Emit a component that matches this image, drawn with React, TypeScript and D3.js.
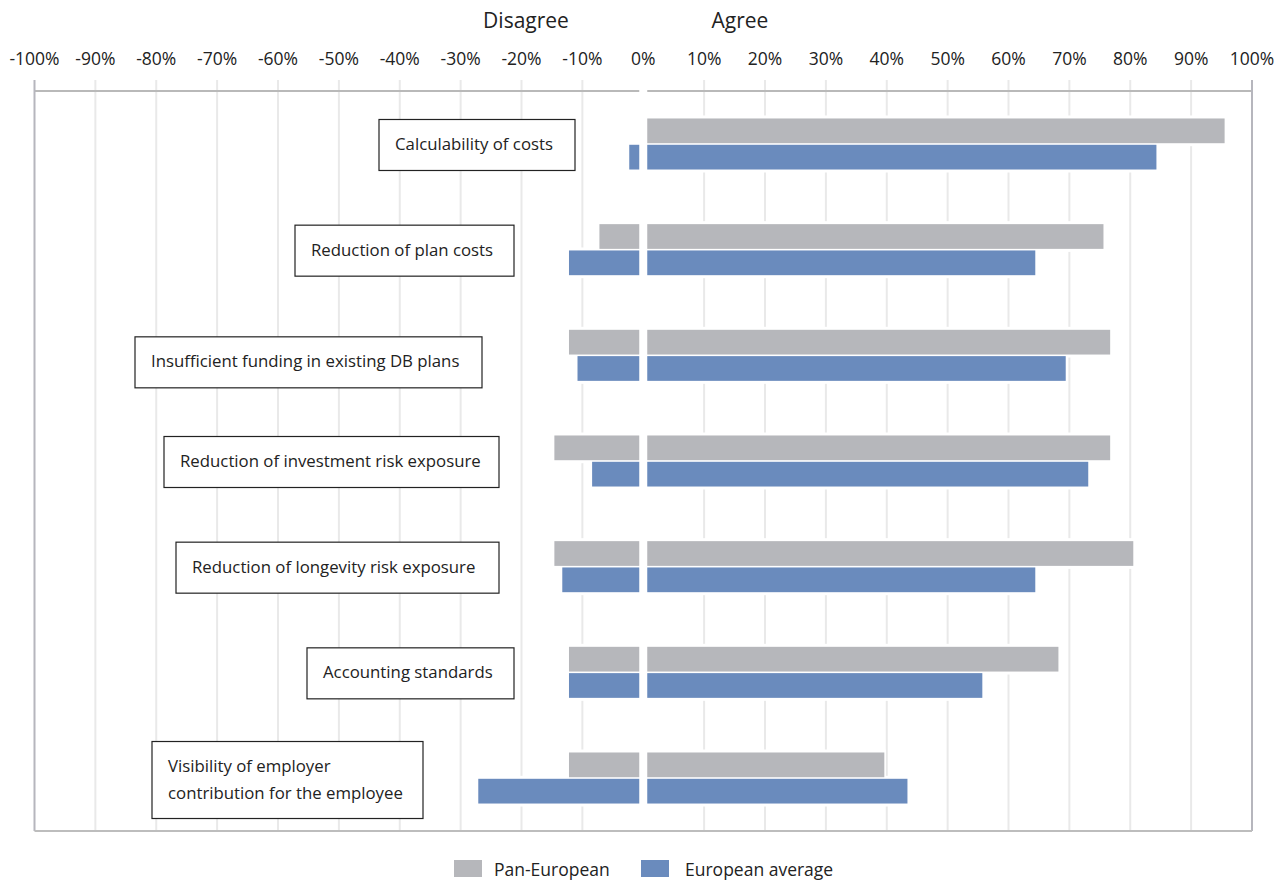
import React from 'react';
import * as d3 from 'd3';

// Survey categories, top to bottom
const categories = [
  'Calculability of costs',
  'Reduction of plan costs',
  'Insufficient funding in existing DB plans',
  'Reduction of investment risk exposure',
  'Reduction of longevity risk exposure',
  'Accounting standards',
  'Visibility of employer contribution for the employee',
];

const seriesNames = ['Pan-European', 'European average'];

// Share of respondents (%) that agree
const panEuropeanAgree = [95.5, 75.6, 76.7, 76.7, 80.5, 68.2, 39.6];
const europeanAverageAgree = [84.3, 64.4, 69.4, 73.1, 64.4, 55.7, 43.4];
// Share of respondents (%) that disagree (drawn to the left)
const panEuropeanDisagree = [0, -7.2, -12.2, -14.6, -14.6, -12.2, -12.2];
const europeanAverageDisagree = [-2.3, -12.2, -10.8, -8.4, -13.3, -12.2, -27.1];

const tickValues = d3.range(-100, 101, 10);

// Label box layout (in px): left edge, right edge, vertical nudge
const labelBoxes = [
  { x0: 379, x1: 575, dy: 1, lines: ['Calculability of costs'] },
  { x0: 295, x1: 514, dy: 1, lines: ['Reduction of plan costs'] },
  { x0: 135, x1: 482, dy: 7, lines: ['Insufficient funding in existing DB plans'] },
  { x0: 164, x1: 499, dy: 1, lines: ['Reduction of investment risk exposure'] },
  { x0: 176, x1: 499, dy: 1, lines: ['Reduction of longevity risk exposure'] },
  { x0: 307, x1: 514, dy: 1, lines: ['Accounting standards'] },
  { x0: 152, x1: 423, dy: 2, lines: ['Visibility of employer', 'contribution for the employee'] },
];

const GRAY = '#b6b7bb';
const BLUE = '#6a8bbd';
const FONT = '"Open Sans", "Noto Sans", sans-serif';

const width = 1286;
const height = 881;
const plot = { left: 34.5, right: 1252, top: 91, bottom: 831 };
const gap = 4; // half-gap around the 0% line

export default function App() {
  const x = d3.scaleLinear().domain([-100, 100]).range([plot.left, plot.right]);
  const y = d3
    .scaleBand<string>()
    .domain(categories)
    .range([plot.top, plot.bottom])
    .paddingInner(0.517)
    .paddingOuter(0.26);
  const ys = d3.scaleBand<string>().domain(seriesNames).range([0, y.bandwidth()]).paddingInner(0.06);

  const x0 = x(0);
  const colors = [GRAY, BLUE];
  const agree = [panEuropeanAgree, europeanAverageAgree];
  const disagree = [panEuropeanDisagree, europeanAverageDisagree];

  const bars: { key: string; x: number; y: number; w: number; h: number; fill: string }[] = [];
  categories.forEach((cat, i) => {
    seriesNames.forEach((s, j) => {
      const by = (y(cat) ?? 0) + (ys(s) ?? 0);
      const h = ys.bandwidth();
      const a = agree[j][i];
      const d = disagree[j][i];
      if (a > 0) bars.push({ key: `a-${i}-${j}`, x: x0 + gap, y: by, w: x(a) - x0 - gap, h, fill: colors[j] });
      if (d < 0) bars.push({ key: `d-${i}-${j}`, x: x(d), y: by, w: x0 - gap - x(d), h, fill: colors[j] });
    });
  });

  return (
    <svg
      width={width}
      height={height}
      style={{ position: 'absolute', left: 0, top: 0, background: '#fff' }}
      fontFamily={FONT}
    >
      {/* header labels */}
      <text x={526} y={28} textAnchor="middle" fontSize={21} fill="#222">Disagree</text>
      <text x={740} y={28} textAnchor="middle" fontSize={21} fill="#222">Agree</text>

      {/* tick labels */}
      {tickValues.map((t) => (
        <text key={`t${t}`} x={x(t)} y={65} textAnchor="middle" fontSize={17.5} fill="#222">
          {`${t}%`}
        </text>
      ))}

      {/* vertical gridlines */}
      {tickValues
        .filter((t) => t !== 0 && Math.abs(t) !== 100)
        .map((t) => (
          <line key={`g${t}`} x1={x(t)} x2={x(t)} y1={80} y2={plot.bottom} stroke="#e9e9e9" strokeWidth={2} />
        ))}

      {/* top axis line with gap at 0 */}
      <line x1={plot.left} x2={x0 - gap} y1={plot.top} y2={plot.top} stroke="#b9b9b9" strokeWidth={2} />
      <line x1={x0 + gap} x2={plot.right} y1={plot.top} y2={plot.top} stroke="#b9b9b9" strokeWidth={2} />
      {/* frame */}
      <line x1={plot.left} x2={plot.left} y1={80} y2={plot.bottom} stroke="#b6b6bd" strokeWidth={2} />
      <line x1={plot.right} x2={plot.right} y1={80} y2={plot.bottom} stroke="#b6b6bd" strokeWidth={2} />
      <line x1={plot.left} x2={plot.right} y1={plot.bottom} y2={plot.bottom} stroke="#bdbdbd" strokeWidth={2} />

      {/* bars: white halo then fill */}
      {bars.map((b) => (
        <rect key={`h${b.key}`} x={b.x - 1.5} y={b.y - 3} width={b.w + 3} height={b.h + 6} fill="#fff" />
      ))}
      {bars.map((b) => (
        <rect key={b.key} x={b.x} y={b.y} width={b.w} height={b.h} fill={b.fill} />
      ))}

      {/* category label boxes */}
      {categories.map((cat, i) => {
        const box = labelBoxes[i];
        const cy = (y(cat) ?? 0) + y.bandwidth() / 2 + box.dy;
        const lh = 27;
        const bh = box.lines.length > 1 ? 77 : 51;
        const first = cy - ((box.lines.length - 1) * lh) / 2;
        return (
          <g key={`l${i}`}>
            <rect x={box.x0} y={cy - bh / 2} width={box.x1 - box.x0} height={bh} fill="#fff" stroke="#222" strokeWidth={1.2} />
            {box.lines.map((ln, k) => (
              <text key={k} x={box.x0 + 16} y={first + k * lh} dy="0.3em" fontSize={16.8} fill="#222">
                {ln}
              </text>
            ))}
          </g>
        );
      })}

      {/* legend */}
      {seriesNames.map((s, j) => {
        const lx = [454, 641][j];
        return (
          <g key={`lg${j}`}>
            <rect x={lx} y={860} width={28} height={17} fill={colors[j]} />
            <text x={lx + 40 + j * 4} y={876} fontSize={17.5} fill="#222">{s}</text>
          </g>
        );
      })}
    </svg>
  );
}
